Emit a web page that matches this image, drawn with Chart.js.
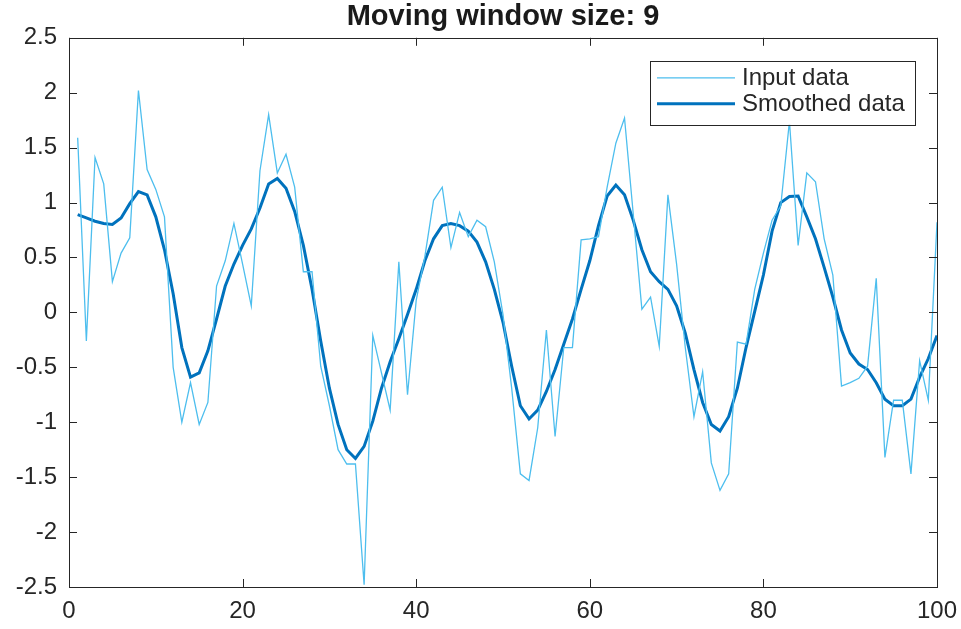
<!DOCTYPE html>
<html>
<head>
<meta charset="utf-8">
<script src="https://cdn.jsdelivr.net/npm/chart.js@4"></script>
<style>
  html, body { margin: 0; padding: 0; background: #ffffff; }
  #wrap { width: 961px; height: 629px; }
</style>
</head>
<body>
<div id="wrap"><canvas id="c" width="961" height="629"></canvas></div>
<script>
const titleText = 'Moving window size: 9';
const seriesNames = ['Input data', 'Smoothed data'];
const xTicks = [0, 20, 40, 60, 80, 100];
const yTicks = [-2.5, -2, -1.5, -1, -0.5, 0, 0.5, 1, 1.5, 2, 2.5];

const inputData = [
  1.59, -0.26, 1.41, 1.17, 0.28, 0.54, 0.68, 2.02, 1.30, 1.12,
  0.87, -0.50, -1.00, -0.64, -1.02, -0.82, 0.24, 0.47, 0.81, 0.44,
  0.06, 1.29, 1.80, 1.27, 1.44, 1.14, 0.37, 0.37, -0.49, -0.85,
  -1.25, -1.38, -1.38, -2.48, -0.21, -0.55, -0.89, 0.46, -0.75, 0.11,
  0.51, 1.02, 1.14, 0.59, 0.91, 0.69, 0.84, 0.78, 0.46, -0.02,
  -0.69, -1.47, -1.53, -1.05, -0.16, -1.13, -0.32, -0.32, 0.66, 0.67,
  0.69, 1.14, 1.54, 1.77, 0.90, 0.03, 0.14, -0.31, 1.07, 0.44,
  -0.32, -0.95, -0.54, -1.37, -1.62, -1.47, -0.27, -0.29, 0.21, 0.54,
  0.84, 0.97, 1.74, 0.61, 1.27, 1.19, 0.67, 0.34, -0.67, -0.64,
  -0.60, -0.49, 0.31, -1.32, -0.80, -0.80, -1.47, -0.44, -0.80, 0.82
];

const smoothedData = [
  0.89, 0.86, 0.83, 0.81, 0.80, 0.86, 0.99, 1.10, 1.07, 0.87,
  0.57, 0.17, -0.32, -0.59, -0.55, -0.35, -0.06, 0.24, 0.44, 0.61,
  0.76, 0.95, 1.17, 1.22, 1.13, 0.92, 0.61, 0.21, -0.26, -0.69,
  -1.02, -1.25, -1.33, -1.22, -0.99, -0.69, -0.45, -0.24, -0.02, 0.21,
  0.47, 0.67, 0.79, 0.81, 0.79, 0.74, 0.64, 0.46, 0.21, -0.09,
  -0.49, -0.85, -0.97, -0.89, -0.72, -0.52, -0.29, -0.06, 0.21, 0.47,
  0.79, 1.06, 1.16, 1.07, 0.84, 0.57, 0.37, 0.28, 0.21, 0.06,
  -0.19, -0.52, -0.82, -1.02, -1.08, -0.95, -0.69, -0.32, 0.01, 0.34,
  0.74, 1.00, 1.055, 1.06, 0.87, 0.67, 0.41, 0.14, -0.16, -0.37,
  -0.47, -0.52, -0.64, -0.79, -0.85, -0.85, -0.79, -0.59, -0.42, -0.21
];

const inputColor = '#4DBEEE';
const smoothColor = '#0072BD';
const axisColor = '#262626';
const fontFamily = '"Liberation Sans", Arial, Helvetica, sans-serif';

const toPoints = arr => arr.map((v, i) => ({ x: i + 1, y: v }));

// Center the title over the plot area (MATLAB style)
const titleCenterPlugin = {
  id: 'titleCenter',
  afterLayout(chart) {
    const tb = chart.titleBlock;
    if (tb) {
      tb.left = chart.chartArea.left;
      tb.right = chart.chartArea.right;
      tb.width = tb.right - tb.left;
    }
  }
};

// Box + inner ticks on all four sides (MATLAB style)
const boxPlugin = {
  id: 'boxTicks',
  afterDatasetsDraw(chart) {
    const { ctx, chartArea: a, scales } = chart;
    const xs = scales.x, ys = scales.y;
    const tl = 8;
    ctx.save();
    ctx.strokeStyle = axisColor;
    ctx.lineWidth = 1;
    ctx.beginPath();
    xTicks.forEach(v => {
      const px = Math.round(xs.getPixelForValue(v)) + 0.5;
      ctx.moveTo(px, a.bottom); ctx.lineTo(px, a.bottom - tl);
      ctx.moveTo(px, a.top); ctx.lineTo(px, a.top + tl);
    });
    yTicks.forEach(v => {
      const py = Math.round(ys.getPixelForValue(v)) + 0.5;
      ctx.moveTo(a.left, py); ctx.lineTo(a.left + tl, py);
      ctx.moveTo(a.right, py); ctx.lineTo(a.right - tl, py);
    });
    ctx.stroke();
    ctx.strokeRect(Math.round(a.left) + 0.5, Math.round(a.top) + 0.5,
                   Math.round(a.right - a.left), Math.round(a.bottom - a.top));
    ctx.restore();
  }
};

// Legend box inside the plot (north-east)
const legendPlugin = {
  id: 'boxLegend',
  afterDraw(chart) {
    const { ctx, chartArea: a } = chart;
    const bw = 265, bh = 64;
    const bx = a.right - 22 - bw, by = a.top + 23;
    ctx.save();
    ctx.fillStyle = '#ffffff';
    ctx.fillRect(bx, by, bw, bh);
    ctx.strokeStyle = axisColor;
    ctx.lineWidth = 1;
    ctx.strokeRect(Math.round(bx) + 0.5, Math.round(by) + 0.5, bw, bh);
    ctx.font = '24px ' + fontFamily;
    ctx.textBaseline = 'middle';
    chart.data.datasets.forEach((ds, i) => {
      const ly = by + 17 + i * 26;
      ctx.strokeStyle = ds.borderColor;
      ctx.lineWidth = ds.borderWidth;
      ctx.beginPath();
      ctx.moveTo(bx + 7, ly); ctx.lineTo(bx + 85, ly);
      ctx.stroke();
      ctx.fillStyle = axisColor;
      ctx.fillText(ds.label, bx + 92, ly + 1);
    });
    ctx.restore();
  }
};

new Chart(document.getElementById('c'), {
  type: 'line',
  data: {
    datasets: [
      { label: seriesNames[0], data: toPoints(inputData), borderColor: inputColor,
        backgroundColor: inputColor, borderWidth: 1.3, pointRadius: 0, tension: 0, fill: false },
      { label: seriesNames[1], data: toPoints(smoothedData), borderColor: smoothColor,
        backgroundColor: smoothColor, borderWidth: 3, pointRadius: 0, tension: 0, fill: false }
    ]
  },
  options: {
    responsive: false,
    animation: false,
    events: [],
    layout: { padding: { left: 0, right: 24, top: 0, bottom: 0 } },
    plugins: {
      legend: { display: false },
      tooltip: { enabled: false },
      title: {
        display: true, text: titleText, color: '#1a1a1a',
        font: { family: fontFamily, size: 29, weight: 'bold', lineHeight: 1.2 },
        padding: { top: 0, bottom: 3 }
      }
    },
    scales: {
      x: {
        type: 'linear', min: 0, max: 100,
        afterBuildTicks: s => { s.ticks = xTicks.map(v => ({ value: v })); },
        afterFit: s => { s.height = 42; s.paddingLeft = 0; s.paddingRight = 0; },
        grid: { display: false, drawTicks: false },
        border: { display: false },
        ticks: { color: axisColor, padding: 10, font: { family: fontFamily, size: 24 }, maxRotation: 0,
                 callback: v => String(v) }
      },
      y: {
        type: 'linear', min: -2.5, max: 2.5,
        afterBuildTicks: s => { s.ticks = yTicks.map(v => ({ value: v })); },
        afterFit: s => { s.width = 69; s.paddingTop = 0; s.paddingBottom = 0; },
        grid: { display: false, drawTicks: false },
        border: { display: false },
        ticks: { color: axisColor, padding: 12, font: { family: fontFamily, size: 24 },
                 callback: v => String(v) }
      }
    }
  },
  plugins: [titleCenterPlugin, boxPlugin, legendPlugin]
});
</script>
</body>
</html>
